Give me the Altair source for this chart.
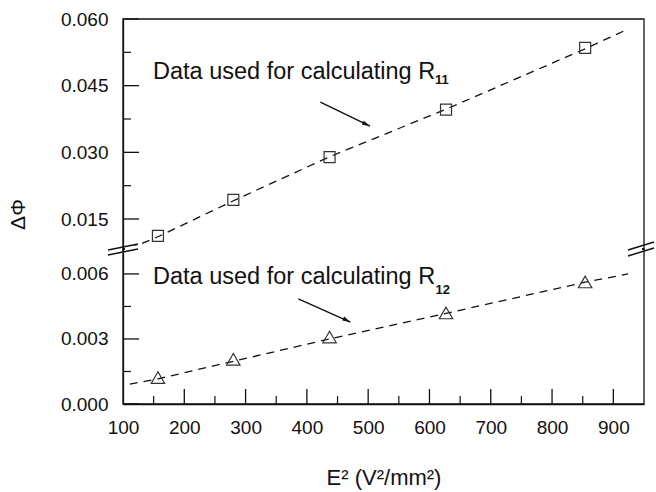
import altair as alt
import pandas as pd

FONT = "Liberation Sans"
INK = "#111111"

# ---------------- data ----------------
e2 = [157, 280, 437, 627, 854]
dphi_r11 = [0.0112, 0.0193, 0.0289, 0.0396, 0.0535]
dphi_r12 = [0.00122, 0.00206, 0.00309, 0.00420, 0.00563]

fit_x_r11 = [110, 157, 280, 437, 627, 854, 925]
fit_y_r11 = [0.0083, 0.0110, 0.0191, 0.0290, 0.0397, 0.0533, 0.0578]
fit_x_r12 = [111, 157, 280, 437, 627, 854, 924]
fit_y_r12 = [0.00092, 0.00116, 0.00197, 0.00300, 0.00418, 0.00562, 0.00600]

x_labels = [100, 200, 300, 400, 500, 600, 700, 800, 900]
x_minor = [150, 250, 350, 450, 550, 650, 750, 850]
y_top_labels = [0.015, 0.030, 0.045, 0.060]
y_top_minor = [0.0225, 0.0375, 0.0525]
y_bot_labels = [0.000, 0.003, 0.006]
y_bot_minor = [0.0015, 0.0045]

ann_text = ["Data used for calculating R", "Data used for calculating R"]
ann_sub = ["11", "12"]
ann_x = [149, 149]
ann_y = [0.0465, 0.00554]
sub_x = [609, 610]
sub_y = [0.04538, 0.00508]
arrow_x = [422, 386]
arrow_y = [0.0413, 0.00485]
arrow_x2 = [503, 471]
arrow_y2 = [0.0359, 0.00378]
arrow_angle = [115.6, 116.6]

# ---------------- layout constants ----------------
W = 521
H_TOP = 230
H_BOT = 155

xscale = alt.Scale(domain=[100, 950], nice=False, zero=False)
ytop = alt.Scale(domain=[0.00825, 0.060], nice=False, zero=False)
ybot = alt.Scale(domain=[0.0, 0.00715], nice=False, zero=False)

dash = [8, 6]


def frame_rule(x1, y1, x2, y2):
    return alt.Chart(pd.DataFrame({"a": [0]})).mark_rule(
        color=INK, strokeWidth=1.4
    ).encode(x=alt.value(x1), x2=alt.value(x2), y=alt.value(y1), y2=alt.value(y2))


def frame_box(h):
    return alt.Chart(pd.DataFrame({"a": [0]})).mark_rect(
        fill=None, stroke=INK, strokeWidth=1.3
    ).encode(x=alt.value(0), x2=alt.value(W), y=alt.value(0), y2=alt.value(h))


def panel(pts_y, fit_x, fit_y, yscale, ylabels, yminor, idx, shape, size, h, yaxis, xaxis):
    pts = pd.DataFrame({"x": e2, "y": pts_y})
    fit = pd.DataFrame({"x": fit_x, "y": fit_y})
    X = lambda: alt.X("x:Q", scale=xscale, axis=None)

    fit_layer = alt.Chart(fit).mark_line(
        color=INK, strokeWidth=1.3, strokeDash=dash
    ).encode(x=alt.X("x:Q", scale=xscale, axis=xaxis),
             y=alt.Y("y:Q", scale=yscale, axis=yaxis))

    pt_layer = alt.Chart(pts).mark_point(
        shape=shape, size=size, filled=False, color="#333333", strokeWidth=1.2, opacity=1
    ).encode(x=X(), y=alt.Y("y:Q", scale=yscale, axis=None))

    major = alt.Chart(pd.DataFrame({"t": ylabels})).mark_rule(
        color=INK, strokeWidth=1.3
    ).encode(y=alt.Y("t:Q", scale=yscale, axis=None), x=alt.value(0), x2=alt.value(16))
    minor = alt.Chart(pd.DataFrame({"t": yminor})).mark_rule(
        color=INK, strokeWidth=1.2
    ).encode(y=alt.Y("t:Q", scale=yscale, axis=None), x=alt.value(0), x2=alt.value(8))

    ann = pd.DataFrame({
        "x": [ann_x[idx]], "y": [ann_y[idx]], "text": [ann_text[idx]],
        "sx": [sub_x[idx]], "sy": [sub_y[idx]], "sub": [ann_sub[idx]],
        "ax": [arrow_x[idx]], "ay": [arrow_y[idx]],
        "ax2": [arrow_x2[idx]], "ay2": [arrow_y2[idx]], "ang": [arrow_angle[idx]],
    })
    txt = alt.Chart(ann).mark_text(
        align="left", baseline="alphabetic", font=FONT, fontSize=23.5, color=INK
    ).encode(x=X(), y=alt.Y("y:Q", scale=yscale, axis=None), text="text:N")
    sub = alt.Chart(ann).mark_text(
        align="left", baseline="alphabetic", font=FONT, fontSize=13, fontWeight="bold", color=INK
    ).encode(x=alt.X("sx:Q", scale=xscale, axis=None),
             y=alt.Y("sy:Q", scale=yscale, axis=None), text="sub:N")
    arrow = alt.Chart(ann).mark_rule(color=INK, strokeWidth=1.4).encode(
        x=alt.X("ax:Q", scale=xscale, axis=None), y=alt.Y("ay:Q", scale=yscale, axis=None),
        x2="ax2:Q", y2="ay2:Q",
    )
    head = alt.Chart(ann).mark_point(
        shape="M0,0L0.55,2L-0.55,2Z", size=64, filled=True, color=INK, opacity=1
    ).encode(
        x=alt.X("ax2:Q", scale=xscale, axis=None), y=alt.Y("ay2:Q", scale=yscale, axis=None),
        angle=alt.Angle("ang:Q", scale=None),
    )
    return [fit_layer, pt_layer, major, minor, frame_box(h), txt, sub, arrow, head]


top_yaxis = alt.Axis(
    values=y_top_labels, format=".3f", ticks=False, grid=False, labelFlush=False,
    domain=True, domainColor=INK, domainWidth=1.3, zindex=1,
    labelFont=FONT, labelFontSize=19, labelColor=INK,
    labelPadding=15, title="ΔΦ", titleFont=FONT, titleFontSize=21, titleFontWeight="normal",
    titleColor=INK, titleX=-95, titleY=195, titleAngle=-90,
)
bot_yaxis = alt.Axis(
    values=y_bot_labels, format=".3f", ticks=False, grid=False, labelFlush=False,
    domain=True, domainColor=INK, domainWidth=1.3, zindex=1,
    labelFont=FONT, labelFontSize=19, labelColor=INK,
    labelPadding=15, title=None,
)
bot_xaxis = alt.Axis(
    values=x_labels, format="d", ticks=False, grid=False, labelFlush=False,
    domain=True, domainColor=INK, domainWidth=1.3, zindex=1,
    labelFont=FONT, labelFontSize=19, labelColor=INK,
    labelPadding=14, title="E² (V²/mm²)", titleFont=FONT, titleFontSize=22,
    titleFontWeight="normal", titleColor=INK, titlePadding=30,
)

top_layers = panel(dphi_r11, fit_x_r11, fit_y_r11, ytop, y_top_labels, y_top_minor,
                   0, "square", 121, H_TOP, top_yaxis, None)
top = alt.layer(*top_layers).properties(width=W, height=H_TOP).resolve_axis(
    x="independent", y="independent"
)

bot_layers = panel(dphi_r12, fit_x_r12, fit_y_r12, ybot, y_bot_labels, y_bot_minor,
                   1, "triangle-up", 180, H_BOT, bot_yaxis, bot_xaxis)

xmaj = alt.Chart(pd.DataFrame({"t": x_labels[1:]})).mark_rule(color=INK, strokeWidth=1.3).encode(
    x=alt.X("t:Q", scale=xscale, axis=None), y=alt.value(H_BOT), y2=alt.value(H_BOT - 15)
)
xmin = alt.Chart(pd.DataFrame({"t": x_minor})).mark_rule(color=INK, strokeWidth=1.2).encode(
    x=alt.X("t:Q", scale=xscale, axis=None), y=alt.value(H_BOT), y2=alt.value(H_BOT - 8)
)

# white band hiding the frame edge where the axis is broken
gap = alt.Chart(pd.DataFrame({"a": [0]})).mark_rect(fill="white").encode(
    x=alt.value(2), x2=alt.value(W - 2), y=alt.value(-3), y2=alt.value(3)
)

# axis-break marks (pure decoration)
brk = [frame_rule(x1, y1, x2, y2) for (x1, y1, x2, y2) in
       [(-15, 1, 15, -5), (-15, 6, 15, 0), (W - 16, 1, W + 10, -7), (W - 16, 7, W + 10, -1)]]

bot = alt.layer(*bot_layers, xmaj, xmin, gap, *brk).properties(
    width=W, height=H_BOT
).resolve_axis(x="independent", y="independent")

chart = alt.vconcat(top, bot, spacing=0, bounds="flush").properties(
    padding={"left": 7, "top": 10, "right": 0, "bottom": 4}, background="white"
).configure_view(stroke=None)

chart.save("out.html", embed_options={"renderer": "svg", "actions": False})
